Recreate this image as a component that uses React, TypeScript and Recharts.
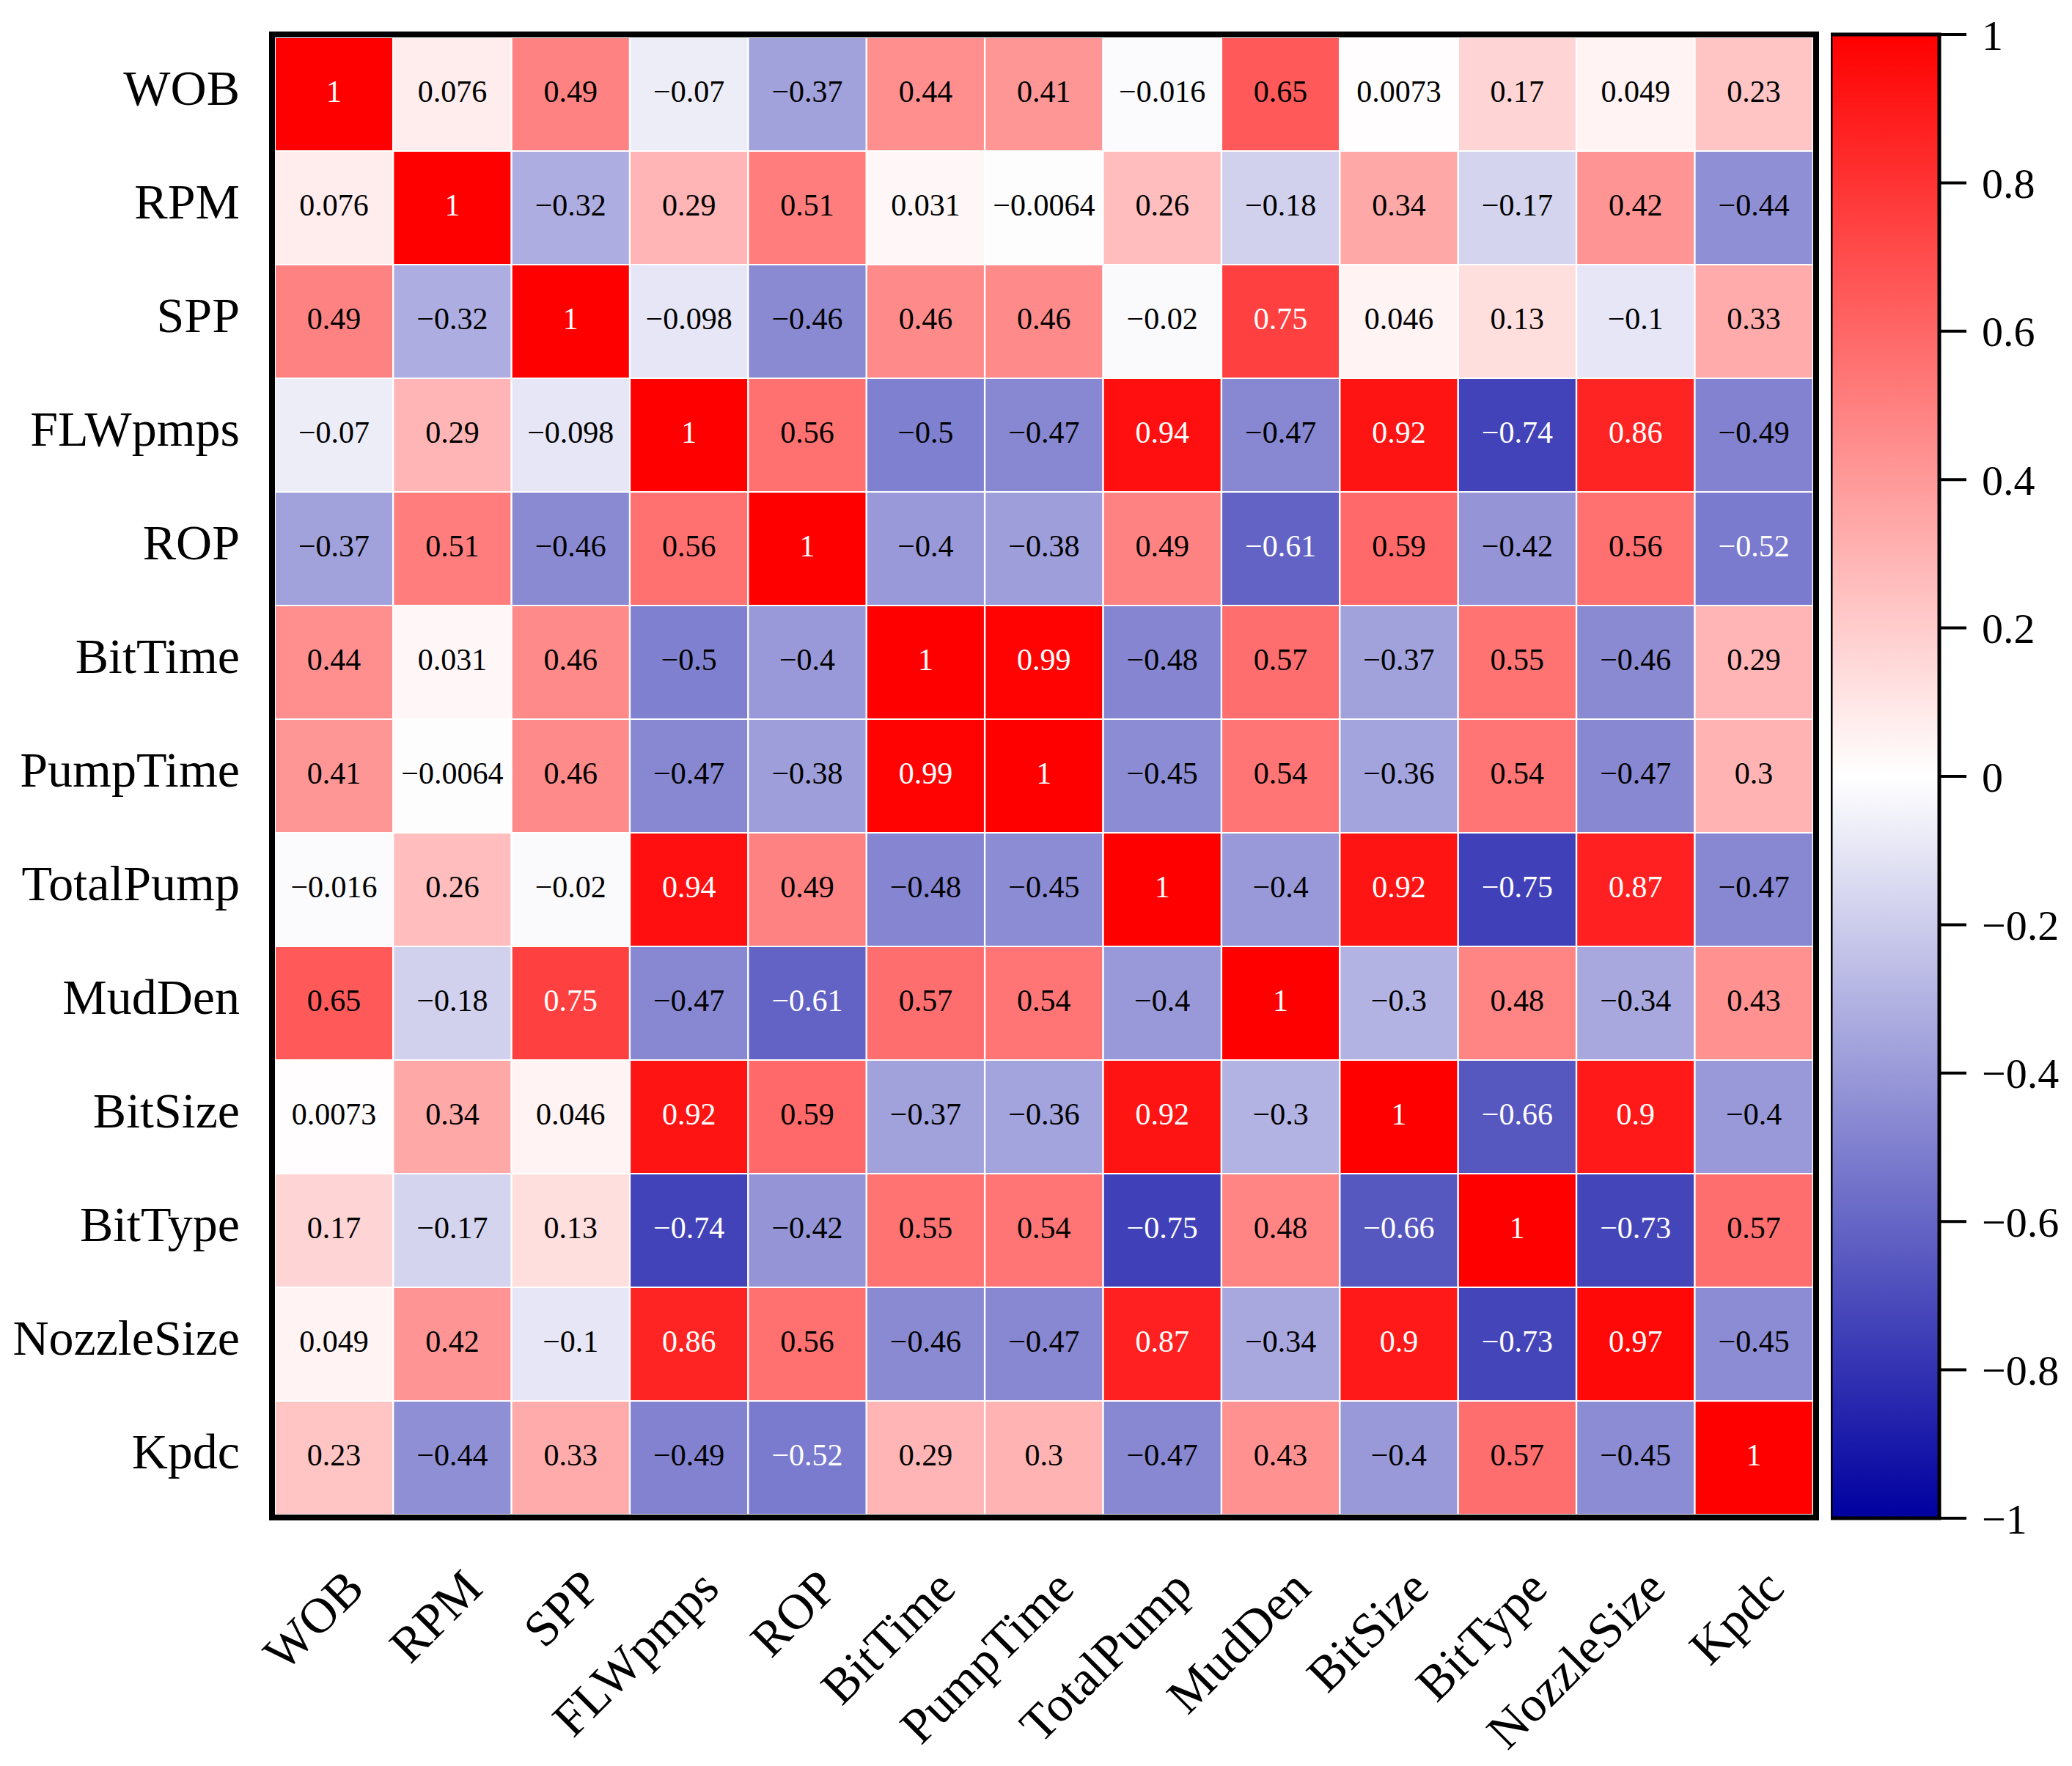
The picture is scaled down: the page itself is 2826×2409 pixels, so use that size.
import * as React from 'react';
import { BarChart, Bar, Cell, XAxis, YAxis, LabelList } from 'recharts';

const FONT = '"Liberation Serif", "Times New Roman", serif';

const variables = [
  'WOB', 'RPM', 'SPP', 'FLWpmps', 'ROP', 'BitTime', 'PumpTime',
  'TotalPump', 'MudDen', 'BitSize', 'BitType', 'NozzleSize', 'Kpdc',
];

// correlation rows, top to bottom
const wobRow = [1, 0.076, 0.49, -0.07, -0.37, 0.44, 0.41, -0.016, 0.65, 0.0073, 0.17, 0.049, 0.23];
const rpmRow = [0.076, 1, -0.32, 0.29, 0.51, 0.031, -0.0064, 0.26, -0.18, 0.34, -0.17, 0.42, -0.44];
const sppRow = [0.49, -0.32, 1, -0.098, -0.46, 0.46, 0.46, -0.02, 0.75, 0.046, 0.13, -0.1, 0.33];
const flwRow = [-0.07, 0.29, -0.098, 1, 0.56, -0.5, -0.47, 0.94, -0.47, 0.92, -0.74, 0.86, -0.49];
const ropRow = [-0.37, 0.51, -0.46, 0.56, 1, -0.4, -0.38, 0.49, -0.61, 0.59, -0.42, 0.56, -0.52];
const bitTimeRow = [0.44, 0.031, 0.46, -0.5, -0.4, 1, 0.99, -0.48, 0.57, -0.37, 0.55, -0.46, 0.29];
const pumpTimeRow = [0.41, -0.0064, 0.46, -0.47, -0.38, 0.99, 1, -0.45, 0.54, -0.36, 0.54, -0.47, 0.3];
const totalPumpRow = [-0.016, 0.26, -0.02, 0.94, 0.49, -0.48, -0.45, 1, -0.4, 0.92, -0.75, 0.87, -0.47];
const mudDenRow = [0.65, -0.18, 0.75, -0.47, -0.61, 0.57, 0.54, -0.4, 1, -0.3, 0.48, -0.34, 0.43];
const bitSizeRow = [0.0073, 0.34, 0.046, 0.92, 0.59, -0.37, -0.36, 0.92, -0.3, 1, -0.66, 0.9, -0.4];
const bitTypeRow = [0.17, -0.17, 0.13, -0.74, -0.42, 0.55, 0.54, -0.75, 0.48, -0.66, 1, -0.73, 0.57];
const nozzleRow = [0.049, 0.42, -0.1, 0.86, 0.56, -0.46, -0.47, 0.87, -0.34, 0.9, -0.73, 0.97, -0.45];
const kpdcRow = [0.23, -0.44, 0.33, -0.49, -0.52, 0.29, 0.3, -0.47, 0.43, -0.4, 0.57, -0.45, 1];

const matrix = [
  wobRow, rpmRow, sppRow, flwRow, ropRow, bitTimeRow, pumpTimeRow,
  totalPumpRow, mudDenRow, bitSizeRow, bitTypeRow, nozzleRow, kpdcRow,
];

const colorbarTicks = [-1, -0.8, -0.6, -0.4, -0.2, 0, 0.2, 0.4, 0.6, 0.8, 1];

const colorOf = (v: number) => {
  if (v >= 0) {
    const g = Math.round(255 * (1 - v));
    return `rgb(255,${g},${g})`;
  }
  const t = -v;
  const rg = Math.round(255 * (1 - t));
  const b = Math.round(255 - 95 * t);
  return `rgb(${rg},${rg},${b})`;
};

const fmt = (v: number) => String(v).replace('-', '\u2212');

// one entry per column, one stacked segment per row
const tableData = variables.map((name, j) => {
  const o: Record<string, any> = { name };
  matrix.forEach((row, i) => {
    o['r' + i] = 1;
    o['v' + i] = row[j];
  });
  return o;
});

const stackOrder = variables.map((_, i) => variables.length - 1 - i); // bottom row first

const renderCellLabel = (props: any) => {
  const { x, y, width, height, value } = props;
  const cx = Number(x) + Number(width) / 2;
  const cy = Number(y) + Number(height) / 2;
  const v = Number(value);
  const white = v > 0.7 || v < -0.51;
  return (
    <text x={cx} y={cy + 10} textAnchor="middle" fontSize={42} fontFamily={FONT} fill={white ? '#fff' : '#000'}>
      {fmt(v)}
    </text>
  );
};

const YTick = (props: any) => {
  const { x, y, payload } = props;
  const name = variables[variables.length - 1 - Math.floor(payload.value)];
  return (
    <text x={x - 48} y={y + 14} textAnchor="end" fontSize={68} fontFamily={FONT} fill="#000">
      {name}
    </text>
  );
};

const XTick = (props: any) => {
  const { x, y, payload } = props;
  const ax = x + 44;
  const ay = y + 104;
  return (
    <text x={ax} y={ay} textAnchor="end" fontSize={68} fontFamily={FONT} fill="#000" transform={`rotate(-45, ${ax}, ${ay})`}>
      {payload.value}
    </text>
  );
};

export default function App() {
  return (
    <div style={{ position: 'absolute', left: 0, top: 0, width: 2826, height: 2409, background: '#fff' }}>
      <div style={{ position: 'absolute', left: 0, top: 0 }}>
        <BarChart
          width={2826}
          height={2409}
          data={tableData}
          margin={{ top: 51, right: 353, left: 0, bottom: 0 }}
          barCategoryGap={0}
          barGap={0}
        >
          <XAxis dataKey="name" interval={0} axisLine={false} tickLine={false} tickSize={0} tickMargin={0} height={343} tick={<XTick />} />
          <YAxis
            type="number"
            domain={[0, variables.length]}
            ticks={variables.map((_, i) => i + 0.5)}
            interval={0}
            axisLine={false}
            tickLine={false}
            tickSize={0}
            tickMargin={0}
            width={375}
            tick={<YTick />}
          />
          {stackOrder.map((i) => (
            <Bar key={i} dataKey={'r' + i} stackId="a" isAnimationActive={false}>
              {matrix[i].map((v, j) => (
                <Cell key={j} fill={colorOf(v)} stroke="#fff" strokeWidth={2} />
              ))}
              <LabelList dataKey={'v' + i} content={renderCellLabel} />
            </Bar>
          ))}
        </BarChart>
      </div>
      <div
        style={{
          position: 'absolute', left: 367, top: 43, width: 2114, height: 2031,
          border: '8px solid #000', boxSizing: 'border-box', pointerEvents: 'none',
        }}
      />
      <div style={{ position: 'absolute', left: 2497, top: 0 }}>
        <BarChart
          width={329}
          height={2409}
          data={[{ name: 'scale', range: [colorbarTicks[0], colorbarTicks[colorbarTicks.length - 1]] }]}
          margin={{ top: 47, right: 0, bottom: 338, left: 0 }}
          barCategoryGap={0}
        >
          <defs>
            <linearGradient id="cbGrad" x1="0" y1="0" x2="0" y2="1">
              {colorbarTicks.slice().reverse().map((t, k) => (
                <stop key={k} offset={`${(k / (colorbarTicks.length - 1)) * 100}%`} stopColor={colorOf(t)} />
              ))}
            </linearGradient>
          </defs>
          <XAxis dataKey="name" hide />
          <YAxis
            orientation="right"
            type="number"
            domain={[-1, 1]}
            ticks={colorbarTicks}
            interval={0}
            width={181}
            axisLine={false}
            tickLine={{ stroke: '#000', strokeWidth: 4 }}
            tickSize={37}
            tickMargin={21}
            tickFormatter={(v: number) => fmt(v)}
            tick={{ fontSize: 58, fill: '#000', fontFamily: FONT }}
          />
          <Bar dataKey="range" fill="url(#cbGrad)" stroke="#000" strokeWidth={5} isAnimationActive={false} />
        </BarChart>
      </div>
    </div>
  );
}
